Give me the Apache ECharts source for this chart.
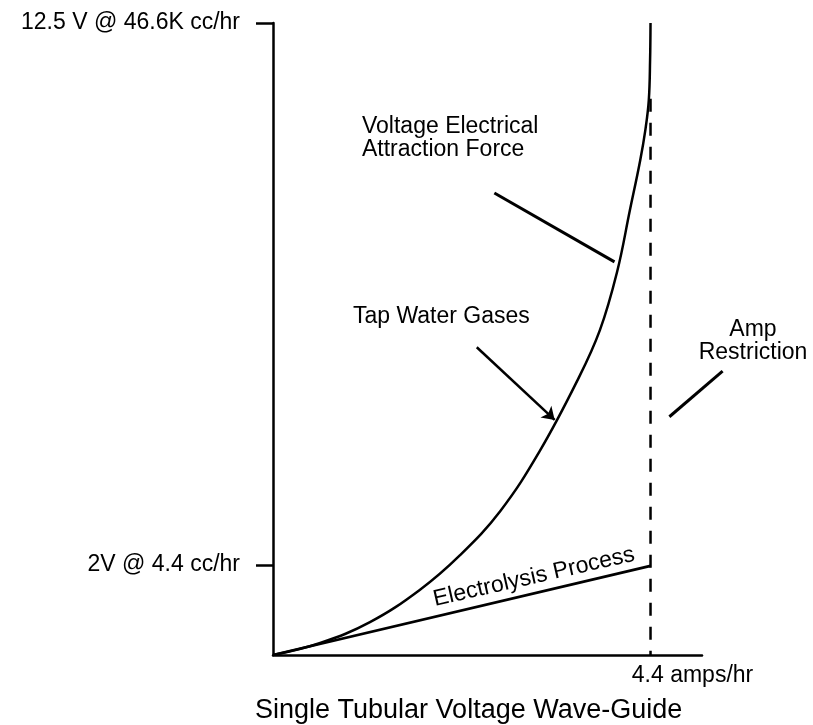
<!DOCTYPE html>
<html>
<head>
<meta charset="utf-8">
<title>Single Tubular Voltage Wave-Guide</title>
<script src="https://cdn.jsdelivr.net/npm/echarts@6/dist/echarts.min.js"></script>
<style>
  html, body { margin: 0; padding: 0; background: #fff; }
  #chart { width: 813px; height: 725px; }
</style>
</head>
<body>
<div id="chart"></div>
<script>
// y is the drawing's own height scale (0 = axis, 100 = top tick), the picture is not to scale
const curveAmps = [0, 0.55, 1.13, 1.71, 2.18, 2.65, 3.11, 3.55, 3.81, 4.01, 4.16, 4.28, 4.34, 4.38, 4.395, 4.4]
const curveLevel = [0, 1.9, 5.2, 10.3, 15.8, 22.8, 32.3, 43.5, 51.4, 60.6, 70.4, 78.3, 83.1, 87.8, 94.2, 100]

const electrolysisAmps = [0, 4.4]
const electrolysisLevel = [0, 14.1]

const restrictionAmps = [4.4, 4.4]
const restrictionLevel = [88, 0]

// pointer lines from labels to the curves
const voltagePointer = [[2.58, 73.1], [3.98, 62.2]]
const tapPointer = [[2.375, 48.7], [3.283, 37.2]]
const ampPointer = [[5.24, 44.9], [4.62, 37.7]]

const yTickLevels = [14.24, 100]
const yTickLabels = ['2V @ 4.4 cc/hr', '12.5 V @ 46.6K cc/hr']
const xTickValues = [4.4]
const xTickLabels = ['4.4 amps/hr']

const FONT = '"Liberation Sans", Arial, Helvetica, sans-serif'
const INK = '#000'

const zip = (xs, ys) => xs.map((x, i) => [x, ys[i]])

const myChart = echarts.init(document.getElementById('chart'))

// same scale as the main grid, but wide enough for the pointer right of the axis end
const AMPS_PER_PX = 5 / 429
const wideMax = 540 * AMPS_PER_PX

var option = {
	animation: false,
	backgroundColor: '#fff',
	title: {
		text: 'Single Tubular Voltage Wave-Guide',
		left: 255,
		top: 697,
		padding: 0,
		textStyle: {
			color: INK,
			fontFamily: FONT,
			fontSize: 27,
			fontWeight: 'normal'
		}
	},
	grid: [
		{ left: 273, top: 23, right: 111, bottom: 70, containLabel: false },
		{ left: 273, top: 23, right: 0, bottom: 70, containLabel: false }
	],
	xAxis: [
		{
			type: 'value',
			gridIndex: 0,
			min: 0,
			max: 5,
			axisLine: {
				show: true,
				onZero: false,
				lineStyle: { color: INK, width: 2.5 }
			},
			axisTick: { show: false },
			splitLine: { show: false },
			axisLabel: {
				customValues: xTickValues,
				margin: 9,
				color: INK,
				fontFamily: FONT,
				fontSize: 23,
				align: 'center',
				padding: [0, 0, 0, 84],
				formatter: function(v) {
					const i = xTickValues.indexOf(v)
					return i >= 0 ? xTickLabels[i] : ''
				}
			}
		},
		{
			type: 'value',
			gridIndex: 1,
			min: 0,
			max: wideMax,
			show: false
		}
	],
	yAxis: [
		{
			type: 'value',
			gridIndex: 0,
			min: 0,
			max: 100,
			axisLine: {
				show: true,
				onZero: false,
				lineStyle: { color: INK, width: 2.5 }
			},
			axisTick: {
				show: true,
				customValues: yTickLevels,
				length: 17,
				lineStyle: { color: INK, width: 2.5 }
			},
			splitLine: { show: false },
			axisLabel: {
				customValues: yTickLevels,
				margin: 33,
				color: INK,
				fontFamily: FONT,
				fontSize: 23,
				formatter: function(v) {
					const i = yTickLevels.indexOf(v)
					return i >= 0 ? yTickLabels[i] : ''
				}
			}
		},
		{
			type: 'value',
			gridIndex: 1,
			min: 0,
			max: 100,
			show: false
		}
	],
	graphic: [
		{
			type: 'text',
			x: 362,
			y: 115,
			style: {
				text: 'Voltage Electrical\nAttraction Force',
				fill: INK,
				fontFamily: FONT,
				fontSize: 23,
				lineHeight: 23,
				textAlign: 'left',
				textVerticalAlign: 'top'
			}
		},
		{
			type: 'text',
			x: 353,
			y: 317,
			style: {
				text: 'Tap Water Gases',
				fill: INK,
				fontFamily: FONT,
				fontSize: 23,
				textAlign: 'left',
				textVerticalAlign: 'middle'
			}
		},
		{
			type: 'text',
			x: 753,
			y: 318,
			style: {
				text: 'Amp\nRestriction',
				fill: INK,
				fontFamily: FONT,
				fontSize: 23,
				lineHeight: 23,
				textAlign: 'center',
				textVerticalAlign: 'top'
			}
		},
		{
			type: 'text',
			x: 534,
			y: 577,
			rotation: 12.8 * Math.PI / 180,
			style: {
				text: 'Electrolysis Process',
				fill: INK,
				fontFamily: FONT,
				fontSize: 23,
				textAlign: 'center',
				textVerticalAlign: 'middle'
			}
		}
	],
	series: [
		{
			name: 'Voltage Electrical Attraction Force',
			type: 'line',
			smooth: 0.4,
			symbol: 'none',
			silent: true,
			lineStyle: { color: INK, width: 2.5 },
			data: zip(curveAmps, curveLevel),
			markLine: {
				silent: true,
				symbol: ['none', 'arrow'],
				symbolSize: 12,
				label: { show: false },
				lineStyle: { color: INK, width: 2.5, type: 'solid' },
				data: [[{ coord: tapPointer[0] }, { coord: tapPointer[1] }]]
			}
		},
		{
			name: 'Electrolysis Process',
			type: 'line',
			symbol: 'none',
			silent: true,
			lineStyle: { color: INK, width: 2.8 },
			data: zip(electrolysisAmps, electrolysisLevel)
		},
		{
			name: 'Amp Restriction',
			type: 'line',
			symbol: 'none',
			silent: true,
			lineStyle: { color: INK, width: 2.5, type: [13, 11] },
			data: zip(restrictionAmps, restrictionLevel)
		},
		{
			name: 'voltage pointer',
			type: 'line',
			symbol: 'none',
			silent: true,
			lineStyle: { color: INK, width: 3 },
			data: voltagePointer
		},
		{
			name: 'amp pointer',
			type: 'line',
			xAxisIndex: 1,
			yAxisIndex: 1,
			symbol: 'none',
			silent: true,
			lineStyle: { color: INK, width: 3 },
			data: ampPointer
		}
	]
}
myChart.setOption(option)
</script>
</body>
</html>
